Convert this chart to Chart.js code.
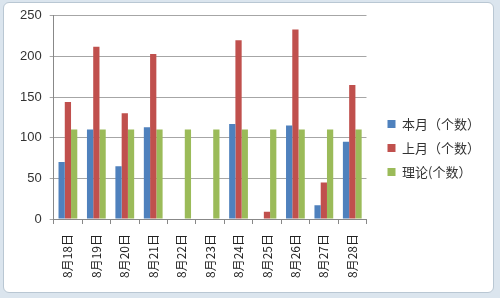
<!DOCTYPE html>
<html>
<head>
<meta charset="utf-8">
<script src="https://cdn.jsdelivr.net/npm/chart.js@4"></script>
<style>
  html, body { margin: 0; padding: 0; }
  body { width: 500px; height: 298px; background: #dbe5ee; position: relative; overflow: hidden; }
  #box { position: absolute; left: 3px; top: 2px; width: 489px; height: 289px; background: #fff; border: 1px solid #b9c7d3; border-radius: 6px; }
  #chart { position: absolute; left: 0; top: 0; }
</style>
</head>
<body>
<div id="box"></div>
<canvas id="chart" width="500" height="298"></canvas>
<script>
// 日期
const dates = ['8月18日', '8月19日', '8月20日', '8月21日', '8月22日', '8月23日',
               '8月24日', '8月25日', '8月26日', '8月27日', '8月28日'];
// 本月（个数）
const thisMonth = [70, 110, 65, 113, null, null, 117, null, 115, 17, 95];
// 上月（个数）
const lastMonth = [144, 212, 130, 203, null, null, 220, 9, 233, 45, 165];
// 理论(个数)
const theory = [110, 110, 110, 110, 110, 110, 110, 110, 110, 110, 110];

const seriesNames = ['本月（个数）', '上月（个数）', '理论(个数）'];

const cjk = '"Noto Sans CJK SC", "DejaVu Sans", sans-serif';
const legendGap = 10;

// 图例和图表之间多留一点空
const legendGapPlugin = {
    id: 'legendGap',
    beforeInit(chart) {
        const fit = chart.legend.fit;
        chart.legend.fit = function() {
            fit.call(this);
            this.width += legendGap;
        };
    },
    afterLayout(chart) {
        chart.legend.left += legendGap;
        chart.legend.right += legendGap;
    }
};

new Chart(document.getElementById('chart'), {
    type: 'bar',
    data: {
        labels: dates,
        datasets: [
            { label: seriesNames[0], data: thisMonth, backgroundColor: '#4f81bd' },
            { label: seriesNames[1], data: lastMonth, backgroundColor: '#c0504d' },
            { label: seriesNames[2], data: theory, backgroundColor: '#9bbb59' }
        ]
    },
    options: {
        responsive: false,
        animation: false,
        layout: { padding: { top: 8, left: 12, right: 10, bottom: 10 } },
        datasets: {
            bar: { barPercentage: 1, categoryPercentage: 0.66 }
        },
        plugins: {
            tooltip: { enabled: false },
            legend: {
                position: 'right',
                labels: {
                    boxWidth: 8,
                    boxHeight: 8,
                    padding: 11,
                    color: '#333',
                    font: { family: cjk, size: 13 }
                }
            }
        },
        scales: {
            x: {
                border: { color: '#888' },
                grid: { offset: true, drawOnChartArea: false, drawTicks: true, tickLength: 5, color: '#888' },
                ticks: {
                    minRotation: 90,
                    maxRotation: 90,
                    padding: 10,
                    color: '#222',
                    font: { family: cjk, size: 12 }
                }
            },
            y: {
                min: 0,
                max: 250,
                border: { color: '#888' },
                grid: { color: '#a6a6a6', tickLength: 4 },
                ticks: {
                    stepSize: 50,
                    padding: 8,
                    color: '#333',
                    font: { family: 'Liberation Sans, Arial, sans-serif', size: 13 }
                }
            }
        }
    },
    plugins: [legendGapPlugin]
});
</script>
</body>
</html>
